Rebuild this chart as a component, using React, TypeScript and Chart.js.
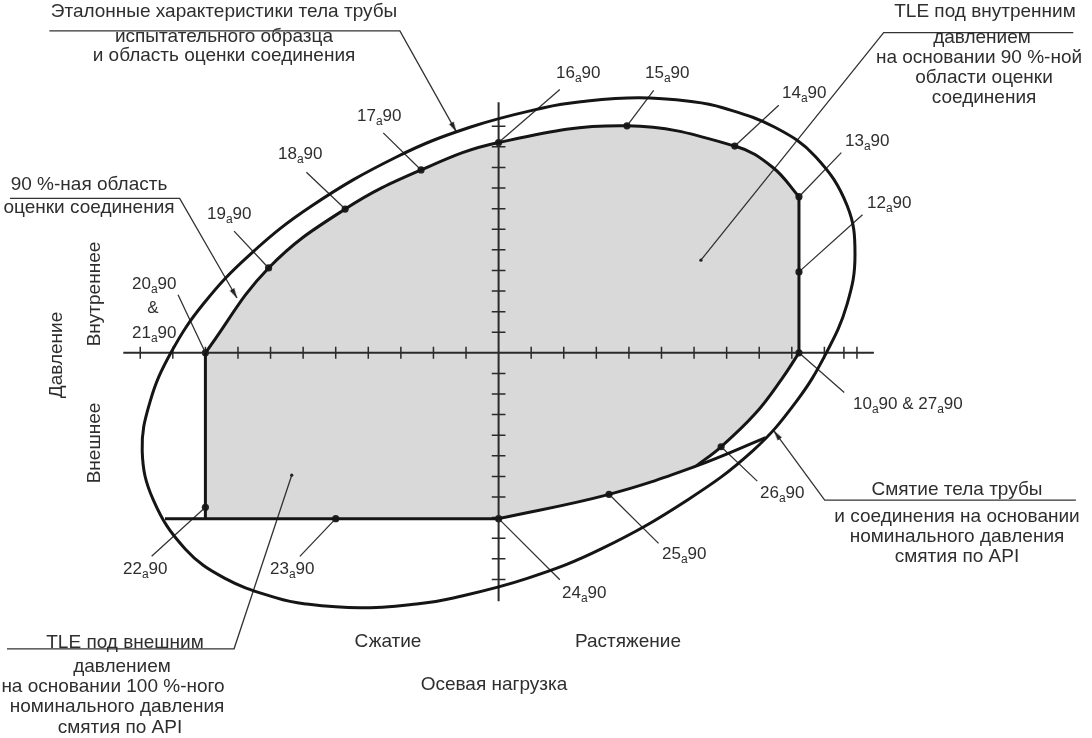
import React, { useEffect, useRef } from 'react';
import { Chart, registerables } from 'chart.js';
Chart.register(...registerables);

type P = [number, number];

// Axis units: x = horizontal tick steps, y = vertical tick steps (origin at axes crossing)
const xRange: P = [-15.09, 18.0];
const yRange: P = [-18.36, 16.79];

const xTicks = [-11, -10, -9, -8, -7, -6, -5, -4, -3, -2, -1, 1, 2, 3, 4, 5, 6, 7, 8, 9, 10, 10.6, 11];
const yTicks = [-11, -10, -9, -8, -7, -6, -5, -4, -3, -2, -1, 1, 2, 3, 4, 5, 6, 7, 8, 9, 10, 11];
const hAxis: P[] = [[-11.52, 0], [11.52, 0]];
const vAxis: P[] = [[0, 12.17], [0, -12.06]];

// 90 % joint evaluation area boundary (points 20 -> 13 along the upper curve)
const innerUpper: P[] = [[-9, 0], [-7.06, 4.12], [-4.71, 6.98], [-2.38, 8.88], [0, 10.21], [3.94, 11.02], [7.25, 10.04], [8.42, 9.0], [9.22, 7.58]];
const innerRight: P[] = [[9.22, 7.58], [9.22, 3.93], [9.22, 0]];
const innerLowerRight: P[] = [[9.22, 0], [8.7, -1.25], [7.88, -2.95], [6.83, -4.56], [6.06, -5.5]];
const collapseLine: P[] = [[0, -8.05], [3.39, -6.87], [6.06, -5.5], [8.2, -4.12]];
const bottomLine: P[] = [[-10.24, -8.05], [-9, -8.05], [-5, -8.05], [0, -8.05]];
const leftEdge: P[] = [[-9, 0], [-9, -7.5], [-9, -8.05]];

// Pipe body reference envelope (outer closed curve)
const outer: P[] = [
  [10.06, 0], [10.7, 2.38], [10.94, 4.76], [10.7, 7.14], [9.73, 9.52], [8.48, 10.95],
  [6.88, 11.9], [5.97, 12.19], [4.3, 12.38], [2.52, 12.19], [1.39, 11.9], [-0.88, 10.95],
  [-3.12, 9.52], [-5.73, 7.14], [-7.64, 4.76], [-9.06, 2.38], [-10.06, 0], [-10.7, -2.38], [-10.94, -4.76],
  [-10.6, -7.14], [-9.62, -9.52], [-8.4, -10.95], [-6.82, -11.9], [-5.93, -12.19],
  [-4.27, -12.38], [-2.52, -12.19], [-1.39, -11.9], [0.88, -10.95], [3.15, -9.52],
  [5.8, -7.14], [7.8, -4.76], [9.13, -2.38],
];

// labelled points 10a90 ... 26a90
const markers: P[] = [[9.22, 0], [9.22, 3.93], [9.22, 7.58], [7.25, 10.04], [3.94, 11.02], [0, 10.21], [-2.38, 8.88],
  [-4.71, 6.98], [-7.06, 4.12], [-9, 0], [-9, -7.5], [-5, -8.05], [0, -8.05], [3.39, -6.87], [6.83, -4.56]];
const labelDots: P[] = [[6.21, 4.5], [-6.35, -5.94]];

const pointLeaders: [P, P][] = [
  [[0, 10.21], [1.88, 12.79]], [[3.94, 11.02], [4.76, 12.74]], [[7.25, 10.04], [8.6, 12.02]],
  [[9.22, 7.58], [10.52, 9.72]], [[9.22, 3.93], [11.17, 6.7]], [[-2.38, 8.88], [-3.54, 10.68]],
  [[-4.71, 6.98], [-5.9, 8.77]], [[-7.06, 4.12], [-8.12, 5.91]], [[-9, 0], [-9.84, 2.82]],
  [[-9, -7.5], [-10.65, -9.88]], [[-5, -8.05], [-6.1, -9.88]], [[0, -8.05], [1.88, -11.02]],
  [[3.39, -6.87], [4.91, -9.25]], [[6.83, -4.56], [7.94, -6.23]], [[9.22, 0], [10.61, -1.93]],
];

const callouts: P[][] = [
  [[-13.79, 15.63], [-3.03, 15.63], [-1.3, 10.74]],
  [[17.64, 15.55], [11.82, 15.55], [6.21, 4.5]],
  [[-15.0, 7.5], [-9.79, 7.5], [-8.03, 2.66]],
  [[-15.09, -14.37], [-8.12, -14.37], [-6.35, -5.94]],
  [[17.72, -7.15], [10.01, -7.15], [8.45, -3.79]],
];
const arrowCallouts = [0, 2, 4];

// texts
const FONT = '"Liberation Sans", Arial, sans-serif';
const TXT = '#2e2e2e';
type T = [string, number, number];
const blockTexts: T[] = [
  ['Эталонные характеристики тела трубы', 224, 12],
  ['испытательного образца', 224, 37],
  ['и область оценки соединения', 224, 56],
  ['TLE под внутренним', 985, 12],
  ['давлением', 982, 38],
  ['на основании 90 %-ной', 979, 58],
  ['области оценки', 984, 78],
  ['соединения', 984, 98],
  ['90 %-ная область', 89, 185],
  ['оценки соединения', 89, 208],
  ['Смятие тела трубы', 957, 490],
  ['и соединения на основании', 957, 517],
  ['номинального давления', 957, 537],
  ['смятия по API', 957, 557],
  ['TLE под внешним', 125, 643],
  ['давлением', 122, 667],
  ['на основании 100 %-ного', 113, 687],
  ['номинального давления', 117, 707],
  ['смятия по API', 120, 728],
  ['Сжатие', 388, 642],
  ['Растяжение', 628, 642],
  ['Осевая нагрузка', 494, 685],
];
const rotatedTexts: T[] = [
  ['Давление', 57, 355],
  ['Внутреннее', 95, 294],
  ['Внешнее', 95, 443],
];
const pointLabels: T[] = [
  ['16', 556, 72], ['15', 645, 72], ['14', 782, 92], ['13', 845, 140], ['12', 867, 202],
  ['17', 357, 115], ['18', 278, 153], ['19', 207, 213], ['20', 132, 283], ['21', 132, 332],
  ['22', 123, 568], ['23', 270, 568], ['24', 562, 592], ['25', 662, 553], ['26', 760, 492],
];

const xy = (pts: P[]) => pts.map(([x, y]) => ({ x, y }));
const segs = (list: P[][]) => {
  const out: { x: number; y: number | null }[] = [];
  list.forEach((s) => { s.forEach(([x, y]) => out.push({ x, y })); out.push({ x: s[0][0], y: null }); });
  return out;
};

function makeArrowImage() {
  const c = document.createElement('canvas');
  c.width = 24; c.height = 24;
  const g = c.getContext('2d')!;
  g.fillStyle = '#222';
  g.beginPath();
  g.moveTo(12, 12); g.lineTo(14.6, 22); g.lineTo(9.4, 22); g.closePath();
  g.fill();
  return c;
}

export default function App() {
  const ref = useRef<HTMLCanvasElement>(null);
  useEffect(() => {
    const STROKE = '#151515';
    const polygon: P[] = [
      ...innerUpper, ...innerRight, ...innerLowerRight,
      ...collapseLine.slice(0, 3).reverse(), ...bottomLine.slice(1).reverse(), ...leftEdge.slice().reverse(),
    ];
    const loop = [outer[outer.length - 1], ...outer, outer[0], outer[1]];
    const loopLast = loop.length - 1;
    const curve = (pts: P[], tension: number, extra: any = {}) => ({
      type: 'line', data: xy(pts), borderColor: STROKE, borderWidth: 3, pointRadius: 0, tension, fill: false, ...extra,
    });
    const arrowImg = makeArrowImage();
    const arrowData = arrowCallouts.map((i) => callouts[i]);

    const texts = {
      id: 'texts',
      afterDraw(chart: any) {
        const ctx = chart.ctx as CanvasRenderingContext2D;
        ctx.save();
        ctx.fillStyle = TXT;
        ctx.textAlign = 'center';
        ctx.textBaseline = 'middle';
        ctx.font = `19px ${FONT}`;
        blockTexts.forEach(([t, x, y]) => ctx.fillText(t, x, y));
        rotatedTexts.forEach(([t, x, y]) => {
          ctx.save(); ctx.translate(x, y); ctx.rotate(-Math.PI / 2); ctx.fillText(t, 0, 0); ctx.restore();
        });
        const rich = (parts: [string, boolean][], x: number, yc: number) => {
          let cx = x;
          ctx.textAlign = 'left';
          ctx.textBaseline = 'alphabetic';
          parts.forEach(([t, sub]) => {
            ctx.font = sub ? `12px ${FONT}` : `17px ${FONT}`;
            ctx.fillText(t, cx, yc + 6 + (sub ? 4 : 0));
            cx += ctx.measureText(t).width;
          });
        };
        pointLabels.forEach(([n, x, y]) => rich([[n, false], ['a', true], ['90', false]], x, y));
        rich([['10', false], ['a', true], ['90 & 27', false], ['a', true], ['90', false]], 853, 403);
        ctx.textAlign = 'center';
        ctx.textBaseline = 'middle';
        ctx.font = `17px ${FONT}`;
        ctx.fillText('&', 153, 308);
        ctx.restore();
      },
    };

    const chart = new Chart(ref.current!, {
      type: 'line',
      data: {
        datasets: [
          // shaded area
          { type: 'line', data: xy(polygon), borderWidth: 0, borderColor: 'rgba(0,0,0,0)', backgroundColor: '#d9d9d9', fill: 'shape', pointRadius: 0, tension: 0.4, order: 10 } as any,
          // axes and ticks
          { type: 'line', data: xy(hAxis), borderColor: '#2a2a2a', borderWidth: 2, pointRadius: 0, fill: false, order: 5 } as any,
          { type: 'line', data: xy(vAxis), borderColor: '#2a2a2a', borderWidth: 2, pointRadius: 0, fill: false, order: 5 } as any,
          { type: 'line', data: segs(xTicks.map((t) => [[t, -0.29], [t, 0.29]] as P[])), borderColor: '#2a2a2a', borderWidth: 1.5, pointRadius: 0, fill: false, spanGaps: false, order: 5 } as any,
          { type: 'line', data: segs(yTicks.map((t) => [[-0.21, t], [0.21, t]] as P[])), borderColor: '#2a2a2a', borderWidth: 1.5, pointRadius: 0, fill: false, spanGaps: false, order: 5 } as any,
          // leaders
          { type: 'line', data: segs(pointLeaders), borderColor: '#333', borderWidth: 1.3, pointRadius: 0, fill: false, spanGaps: false, order: 4 } as any,
          { type: 'line', data: segs(callouts), borderColor: '#333', borderWidth: 1.3, pointRadius: 0, fill: false, spanGaps: false, order: 4 } as any,
          // curves
          curve(innerUpper, 0.4),
          curve(innerRight, 0),
          curve(innerLowerRight, 0.4),
          curve(collapseLine, 0.4),
          curve(bottomLine, 0),
          curve(leftEdge, 0),
          curve(loop, 0.4, {
            segment: { borderColor: (c: any) => (c.p0DataIndex === 0 || c.p1DataIndex === loopLast ? 'rgba(0,0,0,0)' : STROKE) },
          }),
          // markers
          { type: 'line', data: xy(markers), showLine: false, pointRadius: 3.6, pointBackgroundColor: '#222', pointBorderWidth: 0, order: 0 } as any,
          { type: 'line', data: xy(labelDots), showLine: false, pointRadius: 1.6, pointBackgroundColor: '#222', pointBorderWidth: 0, order: 0 } as any,
          {
            type: 'line', data: xy(arrowData.map((c) => c[c.length - 1])), showLine: false, pointStyle: arrowImg, pointRadius: 6,
            rotation: (c: any) => {
              const a = arrowData[c.dataIndex];
              if (!a) return 0;
              const xs = c.chart.scales.x, ys = c.chart.scales.y;
              const p = a[a.length - 2], q = a[a.length - 1];
              const dx = xs.getPixelForValue(q[0]) - xs.getPixelForValue(p[0]);
              const dy = ys.getPixelForValue(q[1]) - ys.getPixelForValue(p[1]);
              return (Math.atan2(dx, -dy) * 180) / Math.PI;
            },
            order: 0,
          } as any,
        ],
      },
      options: {
        animation: false,
        responsive: false,
        devicePixelRatio: 1,
        layout: { padding: 0 },
        plugins: { legend: { display: false }, tooltip: { enabled: false } },
        events: [],
        scales: {
          x: { type: 'linear', min: xRange[0], max: xRange[1], display: false },
          y: { type: 'linear', min: yRange[0], max: yRange[1], display: false },
        },
      },
      plugins: [texts],
    } as any);
    return () => chart.destroy();
  }, []);
  return (
    <div style={{ position: 'fixed', left: 0, top: 0, width: 1092, height: 738, background: '#fff' }}>
      <canvas ref={ref} width={1092} height={738} style={{ display: 'block' }} />
    </div>
  );
}
